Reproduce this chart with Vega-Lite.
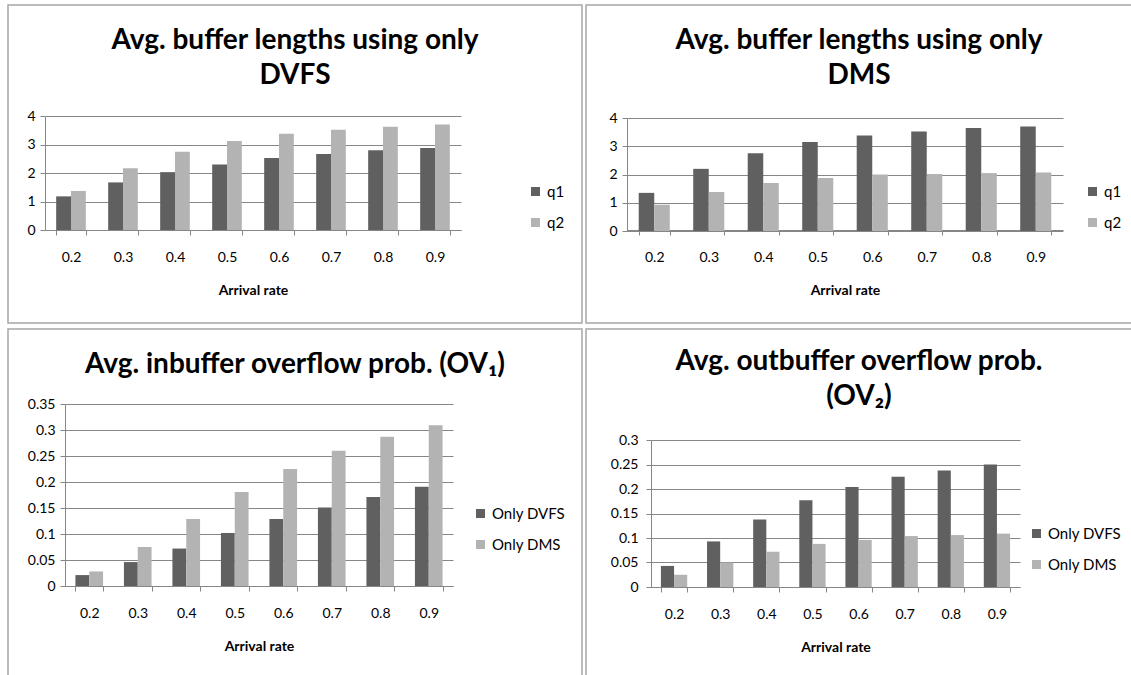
{
  "$schema": "https://vega.github.io/schema/vega-lite/v6.json",
  "padding": {"left": 7, "top": 4, "right": 0, "bottom": 0},
  "background": "white",
  "config": {
    "font": "Lato",
    "view": {"stroke": "#a6a6a6", "strokeWidth": 1.5},
    "axis": {
      "labelFont": "Lato", "labelFontSize": 14, "labelColor": "#000000",
      "titleFont": "Lato", "titleFontSize": 14, "titleFontWeight": "bold", "titleColor": "#000000",
      "domainColor": "#868686", "tickColor": "#868686", "gridColor": "#868686",
      "domainWidth": 1, "tickWidth": 1, "gridWidth": 1, "tickSize": 5
    },
    "axisX": {"labelAngle": 0, "tickBand": "extent", "labelPadding": 15, "titlePadding": 19, "grid": false},
    "axisY": {"title": null, "labelPadding": 5, "grid": true, "format": "~g"},
    "legend": {"labelFont": "Lato", "labelFontSize": 15, "labelColor": "#000000", "symbolType": "square", "symbolSize": 81, "symbolStrokeWidth": 0, "rowPadding": 15, "title": null, "orient": "none", "labelOffset": 4},
    "title": {"font": "Lato", "fontSize": 28, "fontWeight": "bold", "color": "#000000", "anchor": "middle", "frame": "group", "lineHeight": 35}
  },
  "data": {"values": [
    {"panel": "A", "rate": "0.2", "series": "q1", "value": 1.18},
    {"panel": "A", "rate": "0.3", "series": "q1", "value": 1.67},
    {"panel": "A", "rate": "0.4", "series": "q1", "value": 2.03},
    {"panel": "A", "rate": "0.5", "series": "q1", "value": 2.3},
    {"panel": "A", "rate": "0.6", "series": "q1", "value": 2.53},
    {"panel": "A", "rate": "0.7", "series": "q1", "value": 2.67},
    {"panel": "A", "rate": "0.8", "series": "q1", "value": 2.8},
    {"panel": "A", "rate": "0.9", "series": "q1", "value": 2.88},
    {"panel": "A", "rate": "0.2", "series": "q2", "value": 1.37},
    {"panel": "A", "rate": "0.3", "series": "q2", "value": 2.17},
    {"panel": "A", "rate": "0.4", "series": "q2", "value": 2.75},
    {"panel": "A", "rate": "0.5", "series": "q2", "value": 3.12},
    {"panel": "A", "rate": "0.6", "series": "q2", "value": 3.38},
    {"panel": "A", "rate": "0.7", "series": "q2", "value": 3.52},
    {"panel": "A", "rate": "0.8", "series": "q2", "value": 3.62},
    {"panel": "A", "rate": "0.9", "series": "q2", "value": 3.7},
    {"panel": "B", "rate": "0.2", "series": "q1", "value": 1.35},
    {"panel": "B", "rate": "0.3", "series": "q1", "value": 2.2},
    {"panel": "B", "rate": "0.4", "series": "q1", "value": 2.75},
    {"panel": "B", "rate": "0.5", "series": "q1", "value": 3.15},
    {"panel": "B", "rate": "0.6", "series": "q1", "value": 3.38},
    {"panel": "B", "rate": "0.7", "series": "q1", "value": 3.52},
    {"panel": "B", "rate": "0.8", "series": "q1", "value": 3.65},
    {"panel": "B", "rate": "0.9", "series": "q1", "value": 3.7},
    {"panel": "B", "rate": "0.2", "series": "q2", "value": 0.93},
    {"panel": "B", "rate": "0.3", "series": "q2", "value": 1.38},
    {"panel": "B", "rate": "0.4", "series": "q2", "value": 1.7},
    {"panel": "B", "rate": "0.5", "series": "q2", "value": 1.88},
    {"panel": "B", "rate": "0.6", "series": "q2", "value": 2.0},
    {"panel": "B", "rate": "0.7", "series": "q2", "value": 2.02},
    {"panel": "B", "rate": "0.8", "series": "q2", "value": 2.05},
    {"panel": "B", "rate": "0.9", "series": "q2", "value": 2.07},
    {"panel": "C", "rate": "0.2", "series": "Only DVFS", "value": 0.021},
    {"panel": "C", "rate": "0.3", "series": "Only DVFS", "value": 0.046},
    {"panel": "C", "rate": "0.4", "series": "Only DVFS", "value": 0.072},
    {"panel": "C", "rate": "0.5", "series": "Only DVFS", "value": 0.102},
    {"panel": "C", "rate": "0.6", "series": "Only DVFS", "value": 0.129},
    {"panel": "C", "rate": "0.7", "series": "Only DVFS", "value": 0.151},
    {"panel": "C", "rate": "0.8", "series": "Only DVFS", "value": 0.171},
    {"panel": "C", "rate": "0.9", "series": "Only DVFS", "value": 0.191},
    {"panel": "C", "rate": "0.2", "series": "Only DMS", "value": 0.028},
    {"panel": "C", "rate": "0.3", "series": "Only DMS", "value": 0.075},
    {"panel": "C", "rate": "0.4", "series": "Only DMS", "value": 0.129},
    {"panel": "C", "rate": "0.5", "series": "Only DMS", "value": 0.181},
    {"panel": "C", "rate": "0.6", "series": "Only DMS", "value": 0.225},
    {"panel": "C", "rate": "0.7", "series": "Only DMS", "value": 0.26},
    {"panel": "C", "rate": "0.8", "series": "Only DMS", "value": 0.287},
    {"panel": "C", "rate": "0.9", "series": "Only DMS", "value": 0.309},
    {"panel": "D", "rate": "0.2", "series": "Only DVFS", "value": 0.043},
    {"panel": "D", "rate": "0.3", "series": "Only DVFS", "value": 0.093},
    {"panel": "D", "rate": "0.4", "series": "Only DVFS", "value": 0.138},
    {"panel": "D", "rate": "0.5", "series": "Only DVFS", "value": 0.177},
    {"panel": "D", "rate": "0.6", "series": "Only DVFS", "value": 0.204},
    {"panel": "D", "rate": "0.7", "series": "Only DVFS", "value": 0.225},
    {"panel": "D", "rate": "0.8", "series": "Only DVFS", "value": 0.238},
    {"panel": "D", "rate": "0.9", "series": "Only DVFS", "value": 0.25},
    {"panel": "D", "rate": "0.2", "series": "Only DMS", "value": 0.025},
    {"panel": "D", "rate": "0.3", "series": "Only DMS", "value": 0.05},
    {"panel": "D", "rate": "0.4", "series": "Only DMS", "value": 0.072},
    {"panel": "D", "rate": "0.5", "series": "Only DMS", "value": 0.088},
    {"panel": "D", "rate": "0.6", "series": "Only DMS", "value": 0.096},
    {"panel": "D", "rate": "0.7", "series": "Only DMS", "value": 0.104},
    {"panel": "D", "rate": "0.8", "series": "Only DMS", "value": 0.106},
    {"panel": "D", "rate": "0.9", "series": "Only DMS", "value": 0.109}
  ]},
  "columns": 2,
  "spacing": {"row": 6, "column": 4},
  "bounds": "flush",
  "align": "each",
  "resolve": {"scale": {"color": "independent", "x": "independent", "y": "independent", "xOffset": "independent"}, "legend": {"color": "independent"}},
  "concat": [
    {
      "width": 574, "height": 318,
      "title": {"text": ["Avg. buffer lengths using only", "DVFS"], "offset": -85},
      "transform": [{"filter": "datum.panel == 'A'"}],
      "mark": {"type": "bar"},
      "encoding": {
        "x": {"field": "rate", "type": "ordinal", "scale": {"range": [37, 453], "paddingInner": 0.43, "paddingOuter": 0.215}, "axis": {"title": "Arrival rate", "offset": -93}},
        "xOffset": {"field": "series", "sort": ["q1", "q2"], "scale": {"paddingInner": 0, "paddingOuter": 0}},
        "y": {"field": "value", "type": "quantitative", "scale": {"domain": [0, 4], "range": [225, 111], "nice": false}, "axis": {"offset": -37, "values": [0, 1, 2, 3, 4]}},
        "color": {"field": "series", "scale": {"domain": ["q1", "q2"], "range": ["#606060", "#b3b3b3"]}, "legend": {"legendX": 520, "legendY": 179}}
      }
    },
    {
      "width": 546, "height": 318,
      "title": {"text": ["Avg. buffer lengths using only", "DMS"], "offset": -85},
      "transform": [{"filter": "datum.panel == 'B'"}],
      "mark": {"type": "bar"},
      "encoding": {
        "x": {"field": "rate", "type": "ordinal", "scale": {"range": [41, 477], "paddingInner": 0.43, "paddingOuter": 0.215}, "axis": {"title": "Arrival rate", "offset": -93}},
        "xOffset": {"field": "series", "sort": ["q1", "q2"], "scale": {"paddingInner": 0, "paddingOuter": 0}},
        "y": {"field": "value", "type": "quantitative", "scale": {"domain": [0, 4], "range": [226, 113], "nice": false}, "axis": {"offset": -41, "values": [0, 1, 2, 3, 4]}},
        "color": {"field": "series", "scale": {"domain": ["q1", "q2"], "range": ["#606060", "#b3b3b3"]}, "legend": {"legendX": 499, "legendY": 179}}
      }
    },
    {
      "width": 574, "height": 350,
      "title": {"text": "Avg. inbuffer overflow prob. (OV₁)", "offset": -50},
      "transform": [{"filter": "datum.panel == 'C'"}],
      "mark": {"type": "bar"},
      "encoding": {
        "x": {"field": "rate", "type": "ordinal", "scale": {"range": [57, 445], "paddingInner": 0.43, "paddingOuter": 0.215}, "axis": {"title": "Arrival rate", "offset": -93}},
        "xOffset": {"field": "series", "sort": ["Only DVFS", "Only DMS"], "scale": {"paddingInner": 0, "paddingOuter": 0}},
        "y": {"field": "value", "type": "quantitative", "scale": {"domain": [0, 0.35], "range": [257, 75], "nice": false}, "axis": {"offset": -57, "values": [0, 0.05, 0.1, 0.15, 0.2, 0.25, 0.3, 0.35]}},
        "color": {"field": "series", "scale": {"domain": ["Only DVFS", "Only DMS"], "range": ["#606060", "#b3b3b3"]}, "legend": {"legendX": 465, "legendY": 177}}
      }
    },
    {
      "width": 546, "height": 350,
      "title": {"text": ["Avg. outbuffer overflow prob.", "(OV₂)"], "offset": -82},
      "transform": [{"filter": "datum.panel == 'D'"}],
      "mark": {"type": "bar"},
      "encoding": {
        "x": {"field": "rate", "type": "ordinal", "scale": {"range": [65, 434], "paddingInner": 0.43, "paddingOuter": 0.215}, "axis": {"title": "Arrival rate", "offset": -92}},
        "xOffset": {"field": "series", "sort": ["Only DVFS", "Only DMS"], "scale": {"paddingInner": 0, "paddingOuter": 0}},
        "y": {"field": "value", "type": "quantitative", "scale": {"domain": [0, 0.3], "range": [258, 111], "nice": false}, "axis": {"offset": -65, "values": [0, 0.05, 0.1, 0.15, 0.2, 0.25, 0.3], "labelPadding": 8}},
        "color": {"field": "series", "scale": {"domain": ["Only DVFS", "Only DMS"], "range": ["#606060", "#b3b3b3"]}, "legend": {"legendX": 443, "legendY": 197}}
      }
    }
  ]
}
